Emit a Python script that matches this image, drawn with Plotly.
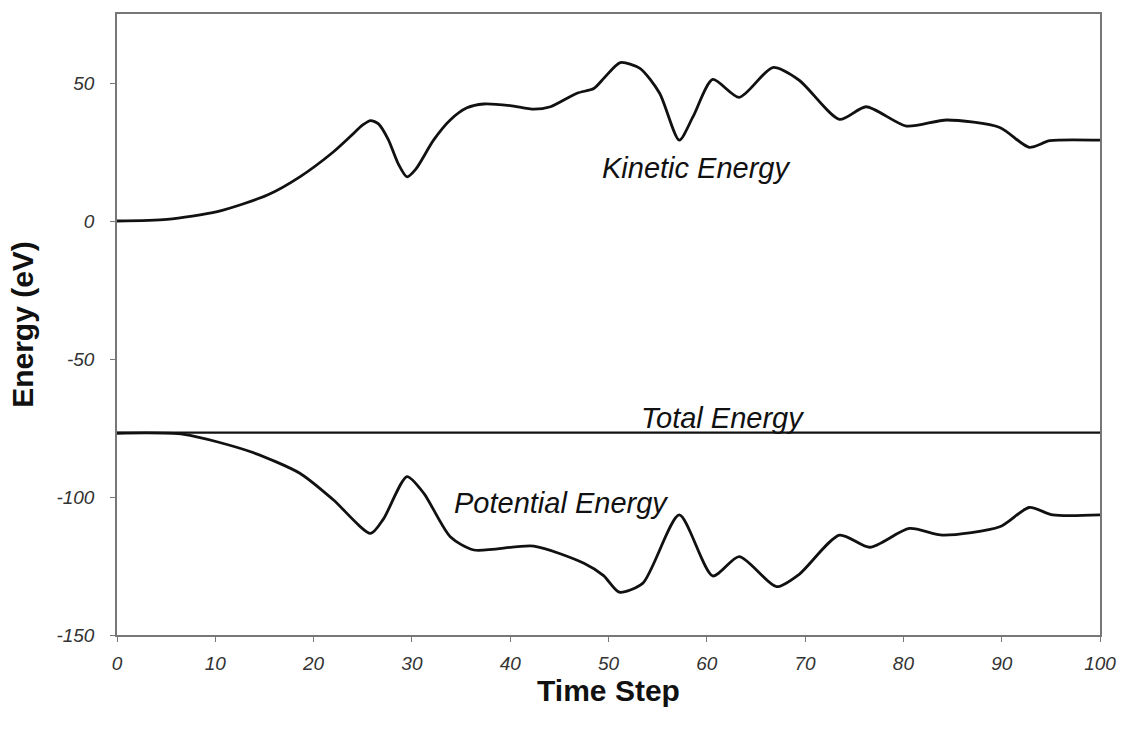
import plotly.graph_objects as go

# Kinetic energy (eV) vs time step
ke_t = [0, 5.1, 10.2, 15.3, 18.6, 22.0, 23.7, 25.0, 25.8, 26.6, 27.6, 28.6, 29.5, 30.4, 32.2, 33.9,
        35.6, 37.3, 40.0, 42.4, 44.1, 46.8, 48.5, 49.6, 51.2, 53.2, 55.2, 57.2, 58.6, 60.6, 63.3,
        66.7, 69.4, 73.5, 76.2, 80.3, 84.4, 89.8, 92.8, 94.9, 100]
ke_v = [0.0, 0.6, 3.4, 9.4, 16.0, 25.0, 30.5, 34.8, 36.4, 35.2, 29.5, 20.8, 16.0, 18.8, 29.3, 36.6,
        41.0, 42.4, 41.8, 40.5, 41.4, 46.3, 48.0, 52.0, 57.4, 55.3, 46.3, 29.3, 37.8, 51.3, 44.8,
        55.6, 51.0, 36.8, 41.4, 34.4, 36.6, 33.9, 26.7, 29.1, 29.3]

# Potential energy (eV) vs time step
pe_t = [0, 6.8, 13.6, 18.6, 22.0, 25.8, 27.1, 29.5, 31.2, 33.9, 36.3, 42.4, 47.5, 49.5, 51.1, 53.5,
        57.2, 60.6, 63.3, 67.1, 69.4, 73.5, 76.6, 80.6, 84.0, 89.8, 92.8, 95.2, 100]
pe_v = [-76.9, -77.3, -83.6, -91.4, -101.0, -113.2, -108.0, -92.6, -98.6, -114.4, -119.2, -117.8,
        -124.0, -128.5, -134.5, -131.2, -106.5, -128.6, -121.6, -132.5, -128.0, -113.8, -118.2,
        -111.4, -113.8, -110.8, -103.8, -106.5, -106.5]

# Total energy (eV) vs time step
tot_t = [0, 25, 50, 75, 100]
tot_v = [-76.7, -76.7, -76.7, -76.7, -76.7]

x_ticks = [0, 10, 20, 30, 40, 50, 60, 70, 80, 90, 100]
x_labels = ["0", "10", "20", "30", "40", "50", "60", "70", "80", "90", "100"]
y_ticks = [-150, -100, -50, 0, 50]
y_labels = ["-150", "-100", "-50", "0", "50"]

line_style = dict(color="#111111", width=2.8, shape="spline", smoothing=0.7)

fig = go.Figure()
fig.add_trace(go.Scatter(x=ke_t, y=ke_v, mode="lines", line=line_style, name="Kinetic Energy"))
fig.add_trace(go.Scatter(x=pe_t, y=pe_v, mode="lines", line=line_style, name="Potential Energy"))
fig.add_trace(go.Scatter(x=tot_t, y=tot_v, mode="lines",
                         line=dict(color="#111111", width=2.2), name="Total Energy"))

ann_font = dict(family="Liberation Sans, Arial, sans-serif", size=29, color="#111111", style="italic")
fig.add_annotation(x=58.9, y=19.2, text="Kinetic Energy", showarrow=False, font=ann_font)
fig.add_annotation(x=61.6, y=-71.4, text="Total Energy", showarrow=False, font=ann_font)
fig.add_annotation(x=45.2, y=-102.2, text="Potential Energy", showarrow=False, font=ann_font)

tick_font = dict(family="Liberation Sans, Arial, sans-serif", size=19, color="#333333", style="italic")
title_font = dict(family="Liberation Sans, Arial, sans-serif", size=30, color="#111111", weight="bold")

fig.update_layout(
    width=1122, height=739,
    margin=dict(l=117, r=22, t=14, b=104),
    paper_bgcolor="white", plot_bgcolor="white",
    showlegend=False,
    xaxis=dict(range=[0, 100], tickvals=x_ticks, ticktext=x_labels, ticks="outside", ticklen=5,
               tickcolor="#777777", showline=True, linecolor="#777777", linewidth=1.5, mirror=True,
               showgrid=False, zeroline=False, tickfont=tick_font, ticklabelstandoff=5,
               ticklabeloverflow="allow", automargin=False,
               title=dict(text="Time Step", font=title_font, standoff=6)),
    yaxis=dict(range=[-150, 75], tickvals=y_ticks, ticktext=y_labels, ticks="outside", ticklen=5,
               tickcolor="#777777", showline=True, linecolor="#777777", linewidth=1.5, mirror=True,
               showgrid=False, zeroline=False, tickfont=tick_font, ticklabelstandoff=12,
               ticklabeloverflow="allow", automargin=False,
               title=dict(text="Energy (eV)", font=title_font, standoff=14)),
)

fig.write_html(
    "out.html",
    config={"displayModeBar": False},
    post_script="document.body.style.margin='0px';document.body.style.overflow='hidden';",
)
